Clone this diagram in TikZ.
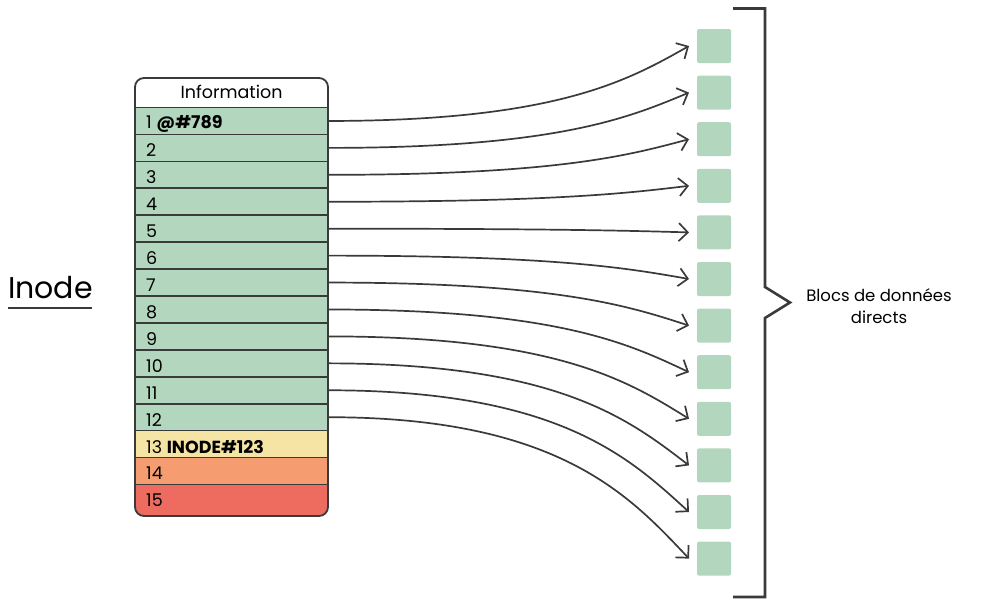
\documentclass[tikz,border=0pt]{standalone}
\usepackage{fontspec}
\setmainfont{Poppins}
\usetikzlibrary{arrows.meta,calc}
\definecolor{rowgreen}{HTML}{B3D6BE}
\definecolor{rowyellow}{HTML}{F6E4A4}
\definecolor{roworange}{HTML}{F59C71}
\definecolor{rowred}{HTML}{EE6B5F}
\definecolor{ink}{HTML}{3A3A3A}
\tikzset{
  rowtxt/.style={anchor=west, inner sep=0pt, font=\fontsize{17.5}{20}\selectfont, text=black},
  datablock/.style={fill=rowgreen, rounded corners=2pt, minimum width=34pt, minimum height=34pt, inner sep=0pt},
  link/.style={draw=ink, line width=1.7pt, -{Straight Barb[length=9pt,width=18pt,line width=1.7pt]}},
  sep/.style={draw=ink, line width=1.6pt}
}
\begin{document}
\begin{tikzpicture}[x=1pt,y=-1pt]
\useasboundingbox (0,0) rectangle (985,606);
% table
\begin{scope}
\clip[rounded corners=9pt] (135,78) rectangle (328,516);
\fill[white] (135,78) rectangle (328,107.5);
\foreach \k in {1,...,12} {
  \fill[rowgreen] (135,{107.5+26.93*(\k-1)}) rectangle (328,{107.5+26.93*\k});
}
\fill[rowyellow] (135,{107.5+26.93*12}) rectangle (328,{107.5+26.93*13});
\fill[roworange] (135,{107.5+26.93*13}) rectangle (328,{107.5+26.93*14});
\fill[rowred] (135,{107.5+26.93*14}) rectangle (328,516);
\end{scope}
\foreach \k in {0,...,14} {
  \draw[sep] (135,{107.5+26.93*\k}) -- (328,{107.5+26.93*\k});
}
\draw[ink, line width=1.8pt, rounded corners=9pt] (135,78) rectangle (328,516);
\node[font=\fontsize{17.5}{20}\selectfont] (info) at (231.5,91.5) {Information};
% row labels and row anchors
\foreach \k in {1,...,15} {
  \coordinate (r\k) at (328,{107.5+26.93*(\k-0.5)});
}
\node[rowtxt] (t1) at (146,{107.5+26.93*0.5+2.5}) {1 \textbf{@\#789}};
\foreach \k in {2,...,12} {
  \node[rowtxt] (t\k) at (146,{107.5+26.93*(\k-0.5)+2.5}) {\k};
}
\node[rowtxt] (t13) at (146,{107.5+26.93*12.5+2.5}) {13 \textbf{INODE\#123}};
\node[rowtxt] (t14) at (146,{107.5+26.93*13.5+2.5}) {14};
\node[rowtxt] (t15) at (146,{107.5+26.93*14.5+2.5}) {15};
% data blocks
\foreach \i in {1,...,12} {
  \node[datablock] (b\i) at (714,{46+46.6*(\i-1)}) {};
  \coordinate (e\i) at (689,{46+46.6*(\i-1)});
}
% links
\foreach \i in {1,...,12} {
  \draw[link] (r\i) .. controls ($(r\i)+(230,0)$) and ($(e\i)!0.45!(e\i |- r\i) + (-60,0)$) .. (e\i);
}
% bracket
\coordinate (bt) at (733,8.5);
\coordinate (bb) at (733,597);
\draw[ink, line width=2.6pt] (bt) -- (765,8.5) -- (765,287) -- (790,302.5) -- (765,318) -- (765,597) -- (bb);
\node[font=\fontsize{16.5}{22}\selectfont, align=center] (lbl) at (879,306.5) {Blocs de données\\directs};
% Inode label
\node[font=\fontsize{30}{34}\selectfont, anchor=base west, inner sep=0pt] (inode) at (8,298) {Inode};
\draw[ink, line width=2pt] (8,307.5) -- (92,307.5);
\end{tikzpicture}
\end{document}
